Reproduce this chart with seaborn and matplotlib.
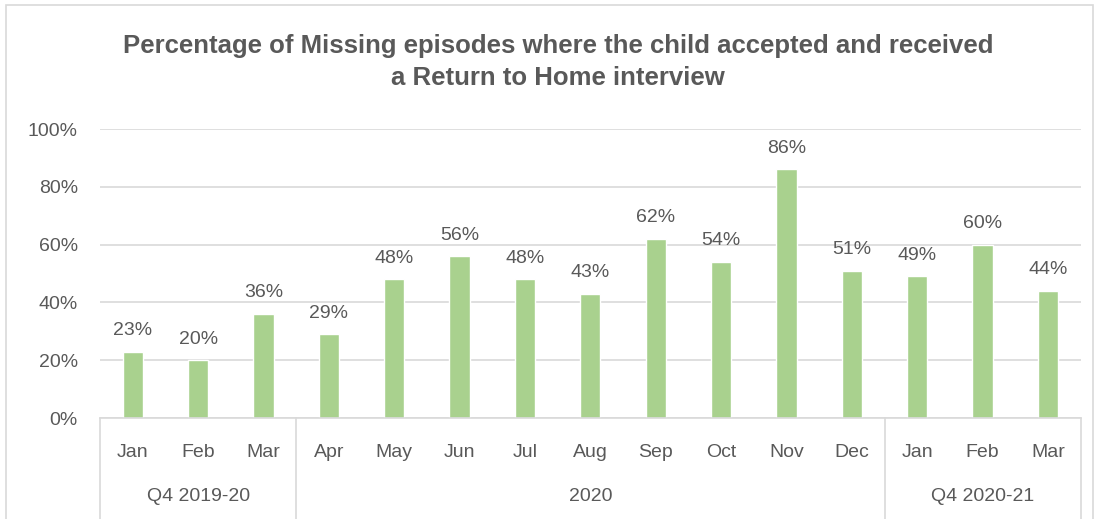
import numpy as np
import pandas as pd
import seaborn as sns
import matplotlib.pyplot as plt
from matplotlib.patches import Rectangle

# Data
months = ["Jan", "Feb", "Mar", "Apr", "May", "Jun", "Jul", "Aug", "Sep", "Oct", "Nov", "Dec", "Jan", "Feb", "Mar"]
pct = [23, 20, 36, 29, 48, 56, 48, 43, 62, 54, 86, 51, 49, 60, 44]
groups = ["Q4 2019-20", "2020", "Q4 2020-21"]
group_sizes = [3, 9, 3]

sns.set_theme(style="white")
plt.rcParams["font.family"] = ["Liberation Sans", "DejaVu Sans"]

text_col = "#595959"
grid_col = "#D9D9D9"
bar_col = "#A9D18E"

df = pd.DataFrame({"pos": range(len(pct)), "month": months, "pct": pct})

fig = plt.figure(figsize=(11.05, 5.19), dpi=100)
# light outer border like the Excel chart area
fig.patches.append(Rectangle((0.005, -0.01), 0.984, 1.0, transform=fig.transFigure,
                             fill=False, edgecolor=grid_col, lw=1.2))
ax = fig.add_axes([0.0905, 0.1946, 0.8875, 0.5568])

sns.barplot(data=df, x="pos", y="pct", color=bar_col, width=0.31, ax=ax, saturation=1)

ax.set_ylim(0, 100)
ax.set_xlim(-0.5, len(pct) - 0.5)
ax.set_yticks(range(0, 101, 20))
ax.set_yticklabels([f"{v}%" for v in range(0, 101, 20)], fontsize=14, color=text_col)
ax.yaxis.grid(True, color=grid_col, lw=1.2)
ax.set_axisbelow(True)
ax.tick_params(axis="y", length=0, pad=16)
ax.tick_params(axis="x", length=0, pad=19)
ax.set_xticks(range(len(months)))
ax.set_xticklabels(months, fontsize=14, color=text_col)
ax.set_xlabel("")
ax.set_ylabel("")
for s in ["top", "right", "left"]:
    ax.spines[s].set_visible(False)
ax.spines["bottom"].set_color(grid_col)
ax.spines["bottom"].set_linewidth(1.2)

ax.bar_label(ax.containers[0], labels=[f"{v}%" for v in pct], padding=9,
             fontsize=14, color=text_col)

# second level of category axis
trans = ax.get_xaxis_transform()
start = -0.5
edges = [start]
for name, n in zip(groups, group_sizes):
    mid = start + n / 2
    ax.text(mid, -0.27, name, transform=trans, ha="center", va="center",
            fontsize=14, color=text_col)
    start += n
    edges.append(start)
for e in edges:
    ax.plot([e, e], [0, -0.36], transform=trans, color=grid_col, lw=1.2, clip_on=False)

fig.suptitle("Percentage of Missing episodes where the child accepted and received\na Return to Home interview",
             x=0.505, y=0.935, fontsize=18.5, fontweight="bold", color=text_col, linespacing=1.45)

fig.savefig("out.png", dpi=100)
